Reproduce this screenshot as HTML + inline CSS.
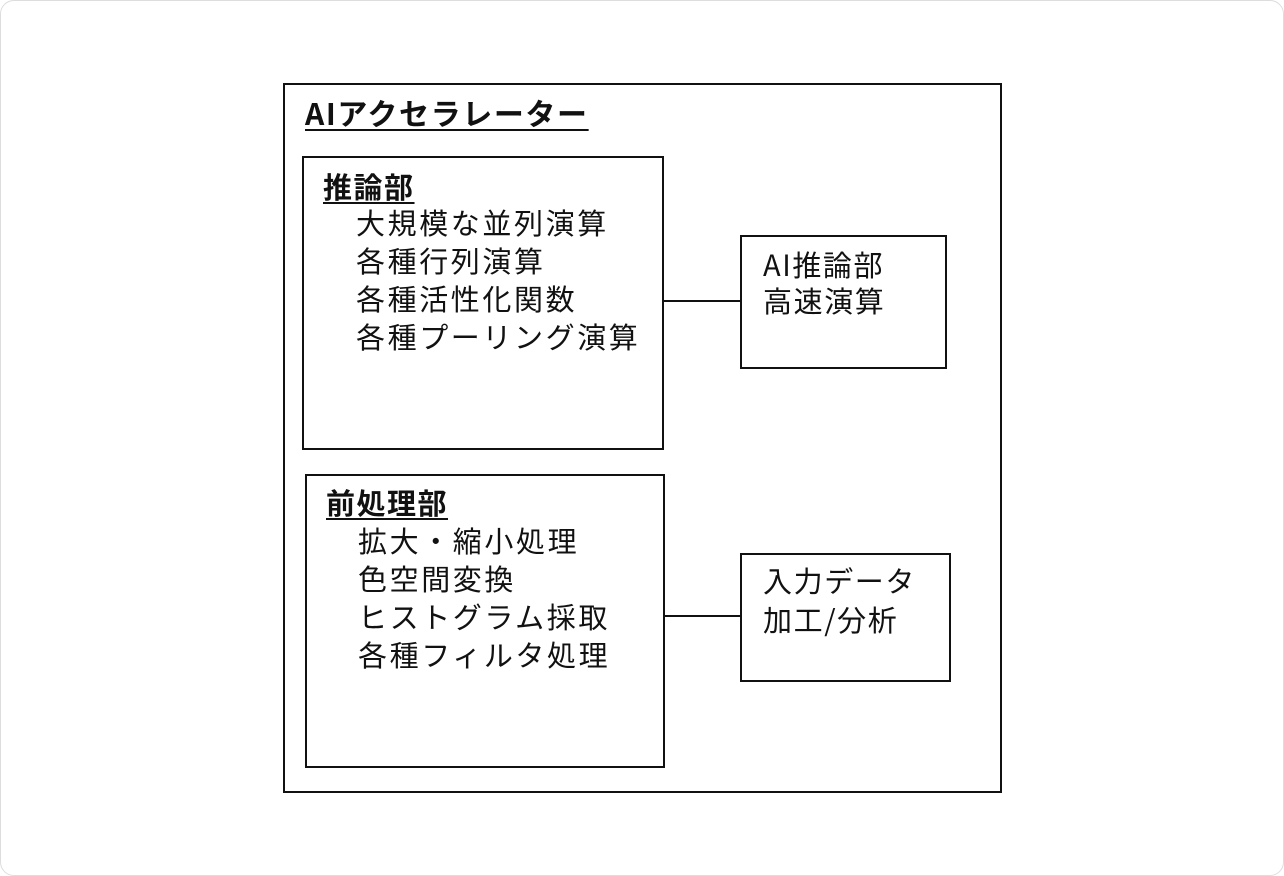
<!DOCTYPE html>
<html><head><meta charset="utf-8"><style>
html,body{margin:0;padding:0;background:#fff}
body{width:1284px;height:876px;position:relative;overflow:hidden;font-family:"Liberation Sans","Noto Sans CJK JP",sans-serif;color:#111}
.card{position:absolute;left:0;top:0;width:1282px;height:874px;border:1px solid #ddd;border-radius:14px}
.b{position:absolute;border:2px solid #111;box-sizing:border-box}
.t{position:absolute;font-size:29px;letter-spacing:2.6px;line-height:38px;white-space:nowrap;font-family:"Noto Sans CJK JP",sans-serif}
.h{font-weight:bold;text-decoration:underline;text-decoration-thickness:2px;text-underline-offset:4px;letter-spacing:1.5px}
.l{position:absolute;height:1.5px;background:#111}
</style></head><body>
<div class="card"></div>
<div class="b" style="left:283px;top:83px;width:719px;height:710px"></div>
<div class="t h" style="left:305px;top:93px;font-size:30px;letter-spacing:1.6px">AIアクセラレーター</div>

<div class="b" style="left:302px;top:156px;width:362px;height:294px"></div>
<div class="t h" style="left:323px;top:167px">推論部</div>
<div class="t" style="left:356px;top:203px">大規模な並列演算<br>各種行列演算<br>各種活性化関数<br>各種プーリング演算</div>
<div class="l" style="left:663px;top:300px;width:78px"></div>
<div class="b" style="left:740px;top:235px;width:207px;height:134px"></div>
<div class="t" style="left:763px;top:246px;line-height:36px;letter-spacing:1.6px">AI推論部<br>高速演算</div>

<div class="b" style="left:305px;top:474px;width:360px;height:294px"></div>
<div class="t h" style="left:326px;top:483px">前処理部</div>
<div class="t" style="left:358px;top:521px">拡大・縮小処理<br>色空間変換<br>ヒストグラム採取<br>各種フィルタ処理</div>
<div class="l" style="left:664px;top:615px;width:77px"></div>
<div class="b" style="left:740px;top:553px;width:211px;height:129px"></div>
<div class="t" style="left:763px;top:561px;line-height:39px;letter-spacing:1.6px">入力データ<br>加工/分析</div>
</body></html>
